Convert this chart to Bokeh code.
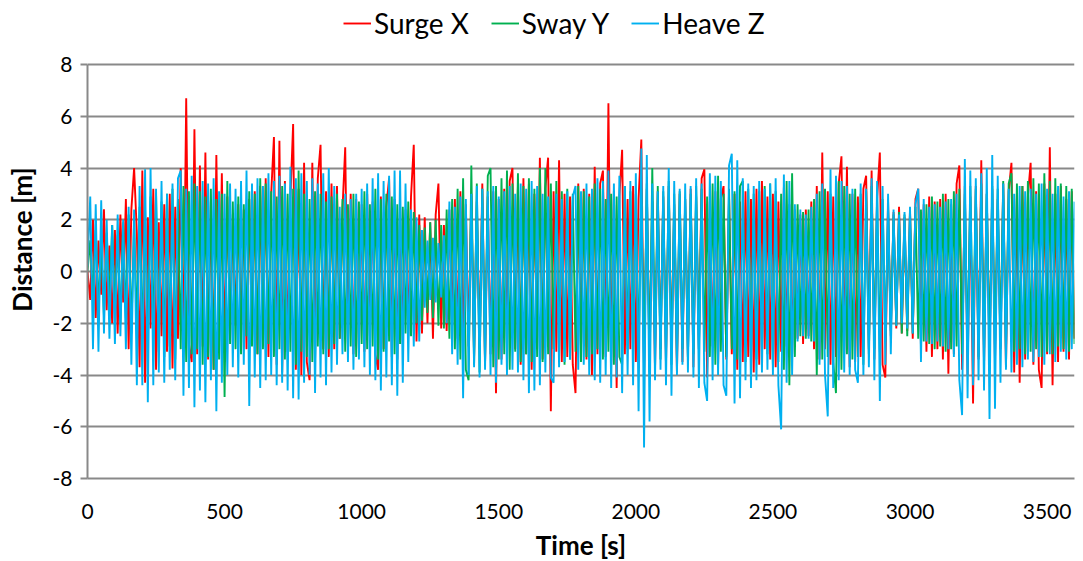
from bokeh.plotting import figure
from bokeh.models import Range1d, FixedTicker, Legend, LegendItem
from bokeh.embed import file_html
from bokeh.resources import INLINE

# time axis: one sample every 10 s, 0..3600 s
time_s = list(range(0, 3601, 10))

surge_x = [
    0.0, -1.1, 2.0, -1.8, 1.2, -0.9, 2.4, -1.5, 1.0, -2.0, 1.6, -2.4, 2.2, -1.2, 2.8, -3.0, 2.4, 4.0, 1.5, -3.7,
    3.9, -4.3, 2.1, -2.2, 3.2, -3.8, 1.9, -2.5, 2.6, -3.1, 3.0, -3.75, 2.5, -2.6, 4.0, -3.0, 6.7, -2.8, -3.5, 5.5,
    -3.2, 4.1, -2.9, 4.6, -3.4, 2.7, -3.8, 4.5, -2.7, 3.8, -3.0, 2.9, -2.6, 2.2, -2.1, 2.6, -2.5, 2.4, -3.0, 2.8,
    -2.7, 3.1, -3.2, 3.3, -2.9, 3.6, -3.3, 3.0, 5.2, -3.6, 5.05, -3.9, 3.5, -3.1, 2.8, 5.7, -3.8, 3.2, -4.0, 4.2,
    -3.5, -4.2, 4.2, -3.4, 3.6, 4.9, -3.0, 3.1, -3.3, 3.4, -3.0, 3.3, -2.6, 2.4, 4.8, -2.9, 3.0, -3.2, 2.8, -3.0,
    2.6, -3.1, 3.0, -2.5, 2.7, -3.2, -3.8, 2.9, -3.0, 2.5, 3.6, -3.3, 2.8, -3.4, 2.6, -2.8, 2.4, -2.5, 2.9, 4.9,
    -2.7, 2.2, -2.4, 2.1, -2.0, 1.9, -2.6, 2.2, 3.4, -2.2, 1.8, -2.3, 2.4, -2.1, 2.8, -2.6, 3.1, -3.0, 2.6, -2.9,
    3.0, -3.3, 2.7, -3.0, 3.4, -3.6, 2.9, -3.2, 3.1, -4.7, 2.8, -3.4, 3.2, -2.9, 3.5, 4.0, -3.0, 3.3, -3.6, 3.6,
    -3.2, 3.4, -3.8, 3.0, -3.0, 4.4, -3.4, 3.2, 4.4, -5.4, 3.1, -3.1, 4.3, -3.5, 3.0, -3.3, 2.9, -3.6, -4.7, 3.4,
    -3.0, 3.2, -3.4, 3.0, -4.0, 4.05, -3.2, 3.4, 3.9, -3.3, 6.5, -3.6, 3.1, -4.5, 2.9, 4.7, -3.2, 2.8, -3.0, 3.3,
    -3.5, 2.8, 5.1, -4.0, 3.2, -3.4, 2.7, -3.8, 3.1, -3.0, 2.9, -3.6, 3.3, -3.2, 2.6, -3.9, 3.0, -3.5, 2.8, -3.3,
    3.2, -3.7, 2.9, -3.0, 3.6, 3.95, -4.1, 2.7, -2.9, 3.1, -3.6, 2.8, 3.3, -3.4, 2.9, -3.2, 3.0, -3.8, 2.7, -3.5,
    3.1, -3.3, 2.8, -3.9, 3.2, -3.6, 3.5, -3.0, 2.9, -3.4, 3.0, -3.7, 2.7, -3.1, 3.25, -2.9, 2.6, -3.2, 2.4, -2.6,
    2.2, -2.8, 2.4, -2.5, 2.7, -3.0, 3.3, -3.4, 4.6, -3.0, 3.1, -3.6, 2.9, -3.3, 3.4, 4.45, -3.2, 4.05, -3.7, 3.0,
    -3.5, 2.9, -3.3, 3.2, 3.7, -3.0, 3.9, -3.4, 2.8, 4.6, -3.6, -4.1, 2.7, -2.5, 2.3, -2.2, 2.5, -2.4, 2.1, -2.3,
    2.4, -2.6, 2.8, 3.2, -2.9, 2.6, -3.1, 2.9, -3.3, 2.7, -3.0, 2.8, -3.4, 3.0, -3.95, 2.6, -3.2, 3.4, 4.1, -3.8,
    3.3, -4.0, 2.9, -5.1, 3.3, -3.4, 4.3, -3.6, 3.0, -3.3, 3.2, -3.5, 2.8, -3.0, 3.4, -3.7, 3.1, 4.2, -3.9, 3.0,
    -4.3, 3.3, -3.4, 2.9, 4.2, -3.6, 3.1, -3.8, -4.5, 3.4, -3.2, 4.8, -4.4, 3.0, -3.5, 3.3, -3.1, 2.8, -3.4, 3.1,
    -2.6,
]

sway_y = [
    0.0, 1.2, -1.0, 1.6, -1.4, 1.1, -1.7, 1.5, -1.2, 1.8, -1.6, 1.4, -2.0, 1.9, -1.8, 2.2, -2.4, 2.0, -2.2, 2.5,
    -2.6, 2.4, -2.8, 2.9, -2.5, 3.0, -3.1, 2.7, -3.3, 3.0, -2.9, 3.2, -3.4, 2.8, -3.0, 3.3, -3.5, 3.1, -3.2, 3.4,
    -3.0, 3.1, -3.6, 2.9, -3.3, 3.2, -3.8, 2.8, -3.4, 3.0, -4.85, 3.5, -2.8, 2.7, -3.0, 2.9, -3.2, 2.6, -2.5, 3.1,
    -2.9, 3.0, -3.2, 3.6, -3.0, 3.4, -2.8, 3.1, -3.3, 2.9, -3.0, 3.3, -3.4, 3.0, -3.1, 3.2, -3.6, 3.9, -3.1, 3.0,
    -3.3, 2.8, -3.5, 3.1, -2.9, 3.0, -3.2, 2.7, -3.0, 2.9, -2.8, 3.0, -2.6, 2.8, -3.1, 2.6, -2.9, 3.0, -3.3, 2.7,
    -2.8, 3.1, -3.0, 2.6, -2.9, 3.2, -3.4, 2.8, -3.1, 3.0, -2.7, 2.9, -3.2, 2.6, -2.8, 2.5, -2.4, 2.7, -2.5, 2.3,
    -2.0, 1.8, -1.9, 1.7, -1.6, 1.9, -1.8, 2.0, -2.1, 1.8, -2.2, 2.4, -2.6, 2.8, -3.0, 3.2, -3.4, 3.6, -3.8, -4.2,
    4.1, -3.6, 3.4, -3.9, 3.2, -3.5, 3.7, 4.0, -3.7, 3.3, -3.4, 3.6, -3.2, 3.9, -3.8, 3.4, -3.1, 3.8, -3.5, 3.3,
    -3.2, 3.6, -3.5, 3.2, -3.3, 4.0, -3.5, 4.0, -3.2, 3.4, -3.0, 3.5, -3.3, 3.1, -3.6, 3.2, -3.4, 3.0, -3.1, 3.3,
    -3.5, 3.1, -3.3, 2.9, -3.2, 3.4, -3.0, 3.2, -3.4, 2.8, -3.1, 3.0, -3.6, 2.9, -3.3, -3.6, 3.3, -3.0, 3.1, -2.8,
    3.0, -3.3, 3.2, -3.5, 3.4, -3.9, 4.0, -3.1, 3.3, -3.4, 3.1, -3.2, 3.5, -3.6, 3.0, -3.4, 3.1, -3.0, 2.8, -3.3,
    3.0, -3.2, 3.3, -3.0, 3.2, -3.1, 2.9, -3.3, 3.4, -3.6, 3.7, -3.1, 3.0, -3.3, 3.2, -3.0, 3.1, -3.4, 3.3, 3.5,
    -3.5, 3.2, -3.3, 3.0, -3.4, 3.1, -3.0, 3.3, -3.2, 3.4, -3.6, 3.1, -3.5, 3.0, -3.8, 3.5, -4.4, 3.8, -3.3, 2.6,
    -2.5, 2.3, -2.6, 2.4, -2.7, 2.8, -4.0, 3.1, -3.4, 3.2, -3.3, 3.0, -3.5, -4.7, 3.5, -3.8, 3.3, -3.2, 3.0, -3.4,
    3.2, -3.3, 3.0, -3.6, 3.1, -3.2, 3.3, -3.0, 2.9, -3.1, 2.8, -2.7, 2.4, -2.3, 2.2, -2.1, 2.3, -2.4, 2.2, -2.5,
    2.3, -2.4, 2.5, -2.6, 2.4, -2.7, 2.6, -2.8, 2.9, -3.0, 2.7, -2.9, 3.0, -3.1, 2.8, -3.0, 3.1, -2.9, 3.2, -3.2,
    3.0, -3.1, 3.3, -3.0, 3.2, -3.3, 3.4, -3.1, 3.0, -3.2, 3.3, -3.0, 3.2, -2.9, 3.5, -3.1, 3.4, 3.8, -3.1, 3.4,
    -3.0, 3.3, -3.2, 3.5, -3.1, 3.6, -3.0, 3.4, -3.3, 3.8, -3.1, 3.5, -3.2, 3.6, -2.9, 3.4, -3.0, 3.3, -3.1, 3.2,
    -2.8,
]

heave_z = [
    0.2, 2.9, -3.0, 2.6, -3.1, 2.75, -2.4, 2.0, -2.6, 1.8, -2.8, 2.2, -2.5, 2.0, -3.0, 2.5, -3.6, 2.4, -4.4, 3.3,
    -4.4, 3.95, -5.05, 4.0, -4.4, 3.2, -3.9, 3.5, -4.3, 3.0, -3.8, 3.4, -4.2, 3.6, 3.9, -4.8, 3.2, -4.5, 3.7, -5.25,
    3.3, -4.6, 3.5, -5.05, 3.4, -4.2, 3.6, -5.4, 3.1, -4.3, 3.0, -4.0, 3.4, -3.7, 3.2, -4.1, 3.5, -3.6, 3.9, -5.2,
    3.4, -4.1, 3.6, -4.5, 3.3, -4.2, 3.8, -4.0, 3.5, -4.4, 3.7, -4.3, 3.4, -4.6, 4.05, -4.9, 3.6, -4.95, 3.8, -4.3,
    3.5, -4.0, 3.6, -4.7, 3.4, -4.1, 3.8, -4.4, 4.0, -3.9, 3.3, -3.6, 2.5, -3.2, 3.0, -3.5, 2.8, -3.8, 3.0, -3.4,
    3.2, -3.7, 3.4, -4.0, 3.6, -4.2, 3.8, -4.6, 3.5, -4.1, 3.7, -4.4, 3.9, -4.8, 3.9, -4.3, 3.4, -3.5, 2.4, -2.9,
    2.1, -2.7, 1.6, -1.4, 1.2, -1.1, 1.3, -1.2, 1.1, -1.0, 1.4, -2.0, 2.7, -3.2, 2.5, -3.6, 2.9, -4.9, 2.8, -4.0,
    3.0, -3.7, 3.3, -4.1, 3.2, -3.8, 3.1, -4.0, 3.3, -4.3, 2.9, -3.6, 3.1, -4.0, 3.3, -3.8, 3.0, -3.9, 3.4, -4.2,
    3.2, -4.7, 3.5, -4.6, 3.3, -4.4, 3.0, -3.9, 2.9, -4.1, -4.3, 3.0, -3.7, 2.8, -3.5, 3.1, -3.4, 2.9, 3.3, -3.8,
    3.1, -3.6, 3.4, -4.0, 3.2, -4.2, 3.6, -4.3, 3.5, -4.0, 3.9, -4.5, 3.4, -4.1, 3.7, -4.7, 3.3, -4.0, 3.5, -4.4,
    3.8, -5.4, 4.75, -6.8, 4.5, -5.8, 3.4, -4.2, 3.1, -3.8, 3.3, -4.4, 4.0, -4.8, 3.5, -4.0, 3.2, -3.6, 3.4, -3.9,
    3.3, -4.1, 3.6, -4.5, 3.4, -4.3, -5.0, 3.8, -4.2, 3.7, -4.0, 3.5, -4.4, -4.8, 4.1, 4.55, -5.1, 4.3, -4.9, 3.6,
    -4.2, 3.4, -4.5, 3.3, -4.2, 3.5, -3.9, 3.2, -3.8, 3.4, -4.0, 3.6, -4.4, -6.1, 3.75, -4.3, 3.5, -4.0, 2.6, -2.7,
    2.4, -2.5, 2.2, -2.6, 2.5, -2.7, 3.0, -3.6, 3.4, -4.0, -5.6, 3.95, -4.5, 3.7, -4.2, 3.5, -3.9, 3.3, -4.0, 3.2,
    -3.8, -4.3, 3.4, -4.0, 3.2, -3.7, 3.6, -4.2, 3.5, -5.0, 3.3, -3.6, 3.0, -3.2, 2.4, -2.1, 2.2, -2.0, 2.3, -2.2,
    2.5, -2.4, 2.6, 3.2, -3.5, 2.8, -2.7, 2.5, -2.8, 2.6, -2.7, 2.5, -2.9, 2.7, -3.0, 2.8, -3.3, 3.0, -4.2, -5.55,
    4.35, -4.9, 3.9, -4.4, 3.6, -4.2, 3.8, -4.6, 4.0, -5.7, 4.5, -5.3, 3.7, -4.3, 3.4, -3.8, 3.2, -3.9, 3.0, -3.6,
    3.3, -3.7, 3.1, -3.4, 3.2, -3.5, 3.0, -3.3, 3.4, -3.6, 3.2, -3.2, 3.0, -3.5, 3.3, -3.1, 2.9, -3.4, 3.1, -3.0,
    2.7,
]

series_names = ["Surge X", "Sway Y", "Heave Z"]
series_colors = ["#FF0000", "#00B050", "#00B0F0"]
y_ticks = [-8, -6, -4, -2, 0, 2, 4, 6, 8]
x_ticks = [0, 500, 1000, 1500, 2000, 2500, 3000, 3500]

FONT = "Lato"

# frame extends above the y=8 line to hold the legend; axis line bounded to [-8, 8]
FRAME_H = 478
PX_PER_UNIT = 414 / 16.0
y_top = -8 + FRAME_H / PX_PER_UNIT

p = figure(frame_width=987, frame_height=FRAME_H, output_backend="svg", toolbar_location=None,
           x_range=Range1d(0, 3600), y_range=Range1d(-8, y_top),
           min_border_left=87, min_border_right=6, min_border_top=0, min_border_bottom=81)
p.outline_line_color = None
p.background_fill_color = "white"

renderers = []
for name, ys, col in zip(series_names, [surge_x, sway_y, heave_z], series_colors):
    r = p.line(time_s, ys, line_color=col, line_width=1.9)
    renderers.append(r)

# grid
p.xgrid.grid_line_color = None
p.ygrid.grid_line_color = "#898989"
p.ygrid.grid_line_width = 2
p.ygrid.ticker = FixedTicker(ticks=y_ticks)
p.ygrid.level = "underlay"

# y axis
p.yaxis.ticker = FixedTicker(ticks=y_ticks)
p.yaxis.bounds = (-8, 8)
p.yaxis.axis_line_color = "#898989"
p.yaxis.axis_line_width = 2
p.yaxis.major_tick_line_color = "#898989"
p.yaxis.major_tick_line_width = 2
p.yaxis.major_tick_out = 7
p.yaxis.major_tick_in = 0
p.yaxis.minor_tick_line_color = None
p.yaxis.axis_label = "Distance [m]"
p.yaxis.major_label_overrides = {t: str(t) for t in y_ticks}

# x axis
p.xaxis.ticker = FixedTicker(ticks=x_ticks)
p.xaxis.axis_line_color = "#898989"
p.xaxis.axis_line_width = 2
p.xaxis.major_tick_line_color = None
p.xaxis.minor_tick_line_color = None
p.xaxis.axis_label = "Time [s]"

for ax in (p.xaxis[0], p.yaxis[0]):
    ax.major_label_text_font = FONT
    ax.major_label_text_font_size = "21px"
    ax.major_label_text_color = "#000000"
    ax.axis_label_text_font = FONT
    ax.axis_label_text_font_size = "26px"
    ax.axis_label_text_font_style = "bold"
    ax.axis_label_text_color = "#000000"
p.yaxis.major_label_standoff = 8
p.xaxis.major_label_standoff = 19
p.xaxis.axis_label_standoff = 7
p.yaxis.axis_label_standoff = 12

legend = Legend(items=[LegendItem(label=n, renderers=[r]) for n, r in zip(series_names, renderers)],
                orientation="horizontal", location=(256, FRAME_H - 40))
legend.label_text_font = FONT
legend.label_text_font_size = "28px"
legend.label_text_color = "#000000"
legend.glyph_width = 28
legend.glyph_height = 20
legend.label_standoff = 3
legend.spacing = 22
legend.border_line_color = None
legend.background_fill_alpha = 0
legend.margin = 0
legend.padding = 2
p.add_layout(legend)

open("out.html", "w").write(file_html(p, INLINE))
